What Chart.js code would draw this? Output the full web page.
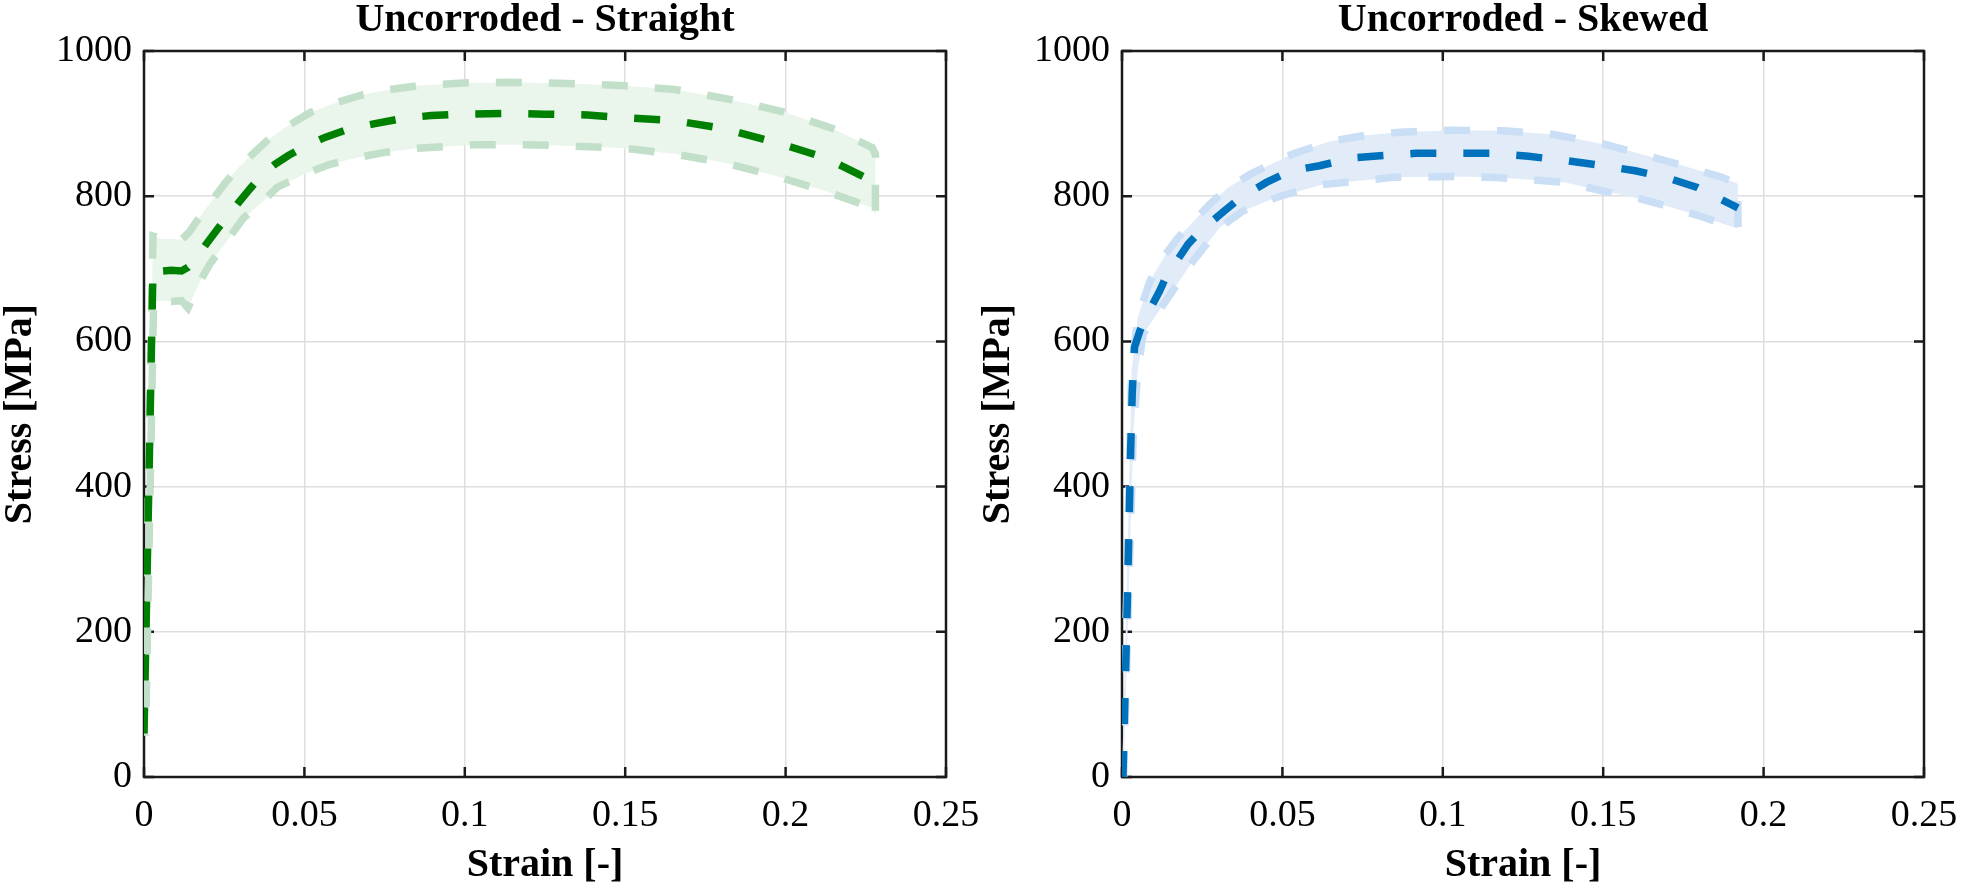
<!DOCTYPE html>
<html>
<head>
<meta charset="utf-8">
<title>Uncorroded stress-strain curves</title>
<script src="https://cdn.jsdelivr.net/npm/chart.js@4.4.1/dist/chart.umd.min.js"></script>
<style>
  html, body { margin: 0; padding: 0; background: #fff; }
  #wrap { position: relative; width: 1961px; height: 891px; overflow: hidden; }
  canvas { position: absolute; top: 0; }
  #chartStraight { left: 0; }
  #chartSkewed { left: 978px; }
</style>
</head>
<body>
<div id="wrap">
  <canvas id="chartStraight" width="982" height="891"></canvas>
  <canvas id="chartSkewed" width="982" height="891"></canvas>
</div>
<script>
// ---------------- DATA ----------------
const xTickValues = [0, 0.05, 0.1, 0.15, 0.2, 0.25];
const xTickLabels = ["0", "0.05", "0.1", "0.15", "0.2", "0.25"];
const yTickValues = [0, 200, 400, 600, 800, 1000];
const yTickLabels = ["0", "200", "400", "600", "800", "1000"];

// Straight: mean curve
const straightMeanStrain = [0, 0.0015, 0.0028, 0.0056, 0.0085, 0.0117, 0.0137, 0.0156, 0.0194, 0.0240, 0.0291, 0.0330, 0.0369, 0.0408, 0.0450, 0.0496, 0.0564, 0.0642, 0.0720, 0.0818, 0.0895, 0.0993, 0.1130, 0.1247, 0.1383, 0.1500, 0.1655, 0.1810, 0.1986, 0.2123, 0.2279];
const straightMeanStress = [60, 400, 702, 697, 698, 697, 702, 711, 734, 761, 789, 810, 830, 844, 856, 867, 881, 893, 900, 908, 911, 913, 914, 913, 912, 908, 904, 893, 872, 853, 819];
// Straight: upper / lower bound of the band
const straightUpperStrain = [0, 0.0028, 0.0056, 0.0085, 0.0117, 0.0140, 0.0160, 0.0195, 0.0258, 0.0300, 0.0382, 0.0434, 0.0517, 0.0600, 0.0683, 0.0767, 0.0850, 0.0993, 0.1149, 0.1343, 0.1500, 0.1655, 0.1830, 0.1986, 0.2142, 0.2270, 0.2280];
const straightUpperStress = [57, 745, 741, 741, 740, 750, 763, 784, 821, 842, 876, 893, 915, 929, 940, 947, 952, 956, 957, 955, 952, 947, 933, 917, 894, 867, 858];
const straightLowerStrain = [0.0005, 0.0030, 0.0056, 0.0085, 0.0117, 0.0137, 0.0175, 0.0206, 0.0258, 0.0310, 0.0362, 0.0414, 0.0497, 0.0580, 0.0663, 0.0746, 0.0850, 0.1032, 0.1188, 0.1343, 0.1500, 0.1655, 0.1810, 0.1967, 0.2123, 0.2270, 0.2280];
const straightLowerStress = [57, 656, 656, 655, 656, 646, 683, 707, 738, 770, 789, 812, 830, 844, 853, 860, 866, 871, 871, 869, 866, 858, 846, 828, 807, 784, 773];

// Skewed: mean curve
const skewedMeanStrain = [0.0003, 0.0016, 0.0027, 0.0032, 0.0039, 0.0056, 0.0068, 0.0118, 0.0136, 0.0206, 0.0244, 0.0320, 0.0370, 0.0450, 0.0526, 0.0616, 0.0721, 0.0818, 0.0916, 0.1033, 0.1150, 0.1267, 0.1383, 0.1500, 0.1600, 0.1695, 0.1793, 0.1920];
const skewedMeanStress = [0, 230, 450, 530, 592, 615, 628, 670, 688, 734, 752, 780, 798, 819, 835, 842, 853, 856, 859, 859, 859, 855, 849, 842, 835, 826, 812, 784];
// Skewed: upper / lower bound of the band
const skewedUpperStrain = [0, 0.0015, 0.0030, 0.0049, 0.0087, 0.0136, 0.0175, 0.0274, 0.0331, 0.0399, 0.0526, 0.0643, 0.0760, 0.0866, 0.1033, 0.1189, 0.1345, 0.1500, 0.1617, 0.1734, 0.1870, 0.1920];
const skewedUpperStress = [0, 260, 560, 633, 683, 720, 743, 789, 812, 830, 857, 875, 884, 888, 891, 890, 885, 872, 858, 844, 826, 817];
const skewedLowerStrain = [0.0005, 0.0020, 0.0035, 0.0049, 0.0066, 0.0129, 0.0222, 0.0305, 0.0378, 0.0492, 0.0627, 0.0845, 0.1033, 0.1150, 0.1267, 0.1383, 0.1500, 0.1600, 0.1695, 0.1812, 0.1920];
const skewedLowerStress = [0, 240, 470, 560, 610, 651, 711, 757, 780, 800, 816, 826, 827, 826, 823, 819, 807, 798, 787, 771, 755];

const FONT = "'Liberation Serif', 'Times New Roman', serif";
const GRID = "#dedede";

// ---------------- BOX + INWARD TICKS (matlab style) ----------------
const boxTicks = {
  id: "boxTicks",
  beforeDatasetsDraw(chart) {
    const { ctx, chartArea: a, scales } = chart;
    const len = 10;
    ctx.save();
    ctx.strokeStyle = "#1a1a1a";
    ctx.lineWidth = 2.5;
    ctx.beginPath();
    scales.x.ticks.forEach(t => {
      const px = scales.x.getPixelForValue(t.value);
      ctx.moveTo(px, a.bottom); ctx.lineTo(px, a.bottom - len);
      ctx.moveTo(px, a.top); ctx.lineTo(px, a.top + len);
    });
    scales.y.ticks.forEach(t => {
      const py = scales.y.getPixelForValue(t.value);
      ctx.moveTo(a.left, py); ctx.lineTo(a.left + len, py);
      ctx.moveTo(a.right, py); ctx.lineTo(a.right - len, py);
    });
    ctx.stroke();
    ctx.strokeRect(a.left, a.top, a.right - a.left, a.bottom - a.top);
    ctx.restore();
  }
};

function toPoints(xs, ys) {
  return xs.map((x, i) => ({ x: x, y: ys[i] }));
}

function makeChart(canvasId, title, mean, upper, lower, colors) {
  // band = closed outline: upper bound forward, lower bound back
  const band = upper.concat(lower.slice().reverse());

  return new Chart(document.getElementById(canvasId), {
    type: "line",
    data: {
      datasets: [
        {
          label: "Mean",
          data: mean,
          borderColor: colors.mean,
          borderWidth: 7.5,
          borderDash: [26, 27],
          pointRadius: 0,
          fill: false,
          tension: 0,
          order: 0
        },
        {
          label: "Range",
          data: band,
          borderColor: colors.edge,
          backgroundColor: colors.fill,
          borderWidth: 7.5,
          borderDash: [26, 27],
          pointRadius: 0,
          fill: "shape",
          tension: 0,
          order: 1
        }
      ]
    },
    options: {
      responsive: false,
      animation: false,
      devicePixelRatio: 1,
      layout: { padding: { left: 0, right: 36, top: 0, bottom: 0 } },
      plugins: {
        legend: { display: false },
        tooltip: { enabled: false },
        title: {
          display: true,
          text: title,
          fullSize: false,
          color: "#000",
          font: { family: FONT, size: 40, weight: "bold", lineHeight: 1 },
          padding: { top: 1, bottom: 10 }
        }
      },
      scales: {
        x: {
          type: "linear",
          min: 0,
          max: 0.25,
          afterBuildTicks: s => { s.ticks = xTickValues.map(v => ({ value: v })); },
          afterFit: s => { s.height = 114; s.paddingLeft = 0; s.paddingRight = 0; },
          grid: { color: GRID, lineWidth: 1.5, drawTicks: false },
          border: { display: false },
          ticks: {
            callback: (v, i) => xTickLabels[i],
            color: "#000",
            font: { family: FONT, size: 38, lineHeight: 1 },
            padding: 20,
            maxRotation: 0,
            autoSkip: false
          },
          title: {
            display: true,
            text: "Strain [-]",
            color: "#000",
            font: { family: FONT, size: 40, weight: "bold", lineHeight: 1 },
            padding: { top: 0, bottom: 5 }
          }
        },
        y: {
          type: "linear",
          min: 0,
          max: 1000,
          afterBuildTicks: s => { s.ticks = yTickValues.map(v => ({ value: v })); },
          afterFit: s => { s.width = 144; s.paddingTop = 0; s.paddingBottom = 0; },
          grid: { color: GRID, lineWidth: 1.5, drawTicks: false },
          border: { display: false },
          ticks: {
            callback: (v, i) => yTickLabels[i],
            color: "#000",
            font: { family: FONT, size: 38, lineHeight: 1 },
            padding: 12,
            autoSkip: false
          },
          title: {
            display: true,
            text: "Stress [MPa]",
            color: "#000",
            font: { family: FONT, size: 40, weight: "bold", lineHeight: 1 },
            padding: { top: 1, bottom: 0 }
          }
        }
      }
    },
    plugins: [boxTicks]
  });
}

makeChart("chartStraight", "Uncorroded - Straight",
  toPoints(straightMeanStrain, straightMeanStress),
  toPoints(straightUpperStrain, straightUpperStress),
  toPoints(straightLowerStrain, straightLowerStress),
  { mean: "#008000", edge: "#c2e0c9", fill: "#eaf5ec" });

makeChart("chartSkewed", "Uncorroded - Skewed",
  toPoints(skewedMeanStrain, skewedMeanStress),
  toPoints(skewedUpperStrain, skewedUpperStress),
  toPoints(skewedLowerStrain, skewedLowerStress),
  { mean: "#0072bd", edge: "#cadff5", fill: "#e1ecf8" });
</script>
</body>
</html>
